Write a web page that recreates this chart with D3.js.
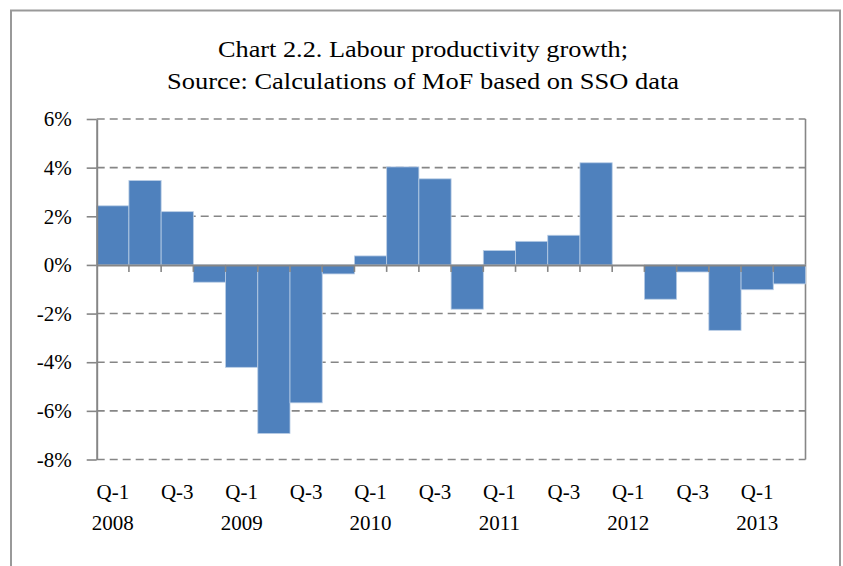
<!DOCTYPE html>
<html><head><meta charset="utf-8">
<script src="https://cdn.jsdelivr.net/npm/d3@7"></script>
<style>body{margin:0;background:#fff}svg{display:block}text{font-family:"Liberation Serif",serif;fill:#000}</style>
</head><body><svg id="c" width="843" height="566"></svg>
<script>
const quarters = ["2008Q1","2008Q2","2008Q3","2008Q4","2009Q1","2009Q2","2009Q3","2009Q4","2010Q1","2010Q2","2010Q3","2010Q4","2011Q1","2011Q2","2011Q3","2011Q4","2012Q1","2012Q2","2012Q3","2012Q4","2013Q1","2013Q2"];
const growth = [2.43,3.47,2.19,-0.71,-4.21,-6.93,-5.67,-0.37,0.37,4.03,3.54,-1.82,0.59,0.97,1.22,4.2,0,-1.41,-0.29,-2.69,-1.02,-0.78];
const quarterLabels = ["Q-1","","Q-3","","Q-1","","Q-3","","Q-1","","Q-3","","Q-1","","Q-3","","Q-1","","Q-3","","Q-1",""];
const yearLabels = ["2008","","","","2009","","","","2010","","","","2011","","","","2012","","","","2013",""];
const yTicks = [6,4,2,0,-2,-4,-6,-8];
const titleLines = ["Chart 2.2. Labour productivity growth;","Source: Calculations of MoF based on SSO data"];

const svg = d3.select("#c");
const L = 96.7, R = 805.5, T = 119, B = 459.5;
const x = d3.scaleBand().domain(quarters).range([L, R]).padding(0);
const y = d3.scaleLinear().domain([-8, 6]).range([B, T]);
const grey = "#868686";
const FONT = "Liberation Serif, serif";

// outer frame
svg.append("path").attr("d", `M11,566 V10.5 H840 V566`).attr("fill","none").attr("stroke","#999").attr("stroke-width",2);

// title
const tw = [410, 512];
svg.append("g").selectAll("text").data(titleLines).join("text")
  .attr("x", 423).attr("y", (d,i)=>57 + i*32).attr("text-anchor","middle")
  .attr("font-size", 24).attr("textLength",(d,i)=>tw[i]).attr("lengthAdjust","spacingAndGlyphs").text(d=>d);

// gridlines
svg.append("g").selectAll("line").data(yTicks.filter(v=>v!==0)).join("line")
  .attr("x1", L).attr("x2", R).attr("y1", d=>y(d)).attr("y2", d=>y(d))
  .attr("stroke", grey).attr("stroke-width", 1.6).attr("stroke-dasharray","8,5");

// plot border right
svg.append("line").attr("x1",R).attr("x2",R).attr("y1",T).attr("y2",B).attr("stroke",grey).attr("stroke-width",1.6);

// bars
svg.append("g").selectAll("rect").data(growth).join("rect")
  .attr("x", (d,i)=>x(quarters[i]))
  .attr("width", x.bandwidth())
  .attr("y", d=>y(Math.max(0,d)))
  .attr("height", d=>Math.abs(y(d)-y(0)))
  .attr("fill", "#4F81BD").attr("stroke","#b9cde5").attr("stroke-width",0.8);

// y axis
const yAxis = d3.axisLeft(y).tickValues(yTicks).tickFormat(d=>d+"%").tickSizeInner(10).tickSizeOuter(0).tickPadding(15);
const gy = svg.append("g").attr("transform",`translate(${L},0)`).call(yAxis);
gy.select(".domain").attr("stroke",grey).attr("stroke-width",2);
gy.selectAll(".tick line").attr("stroke",grey).attr("stroke-width",1.6);
gy.selectAll(".tick text").attr("font-size",21).attr("font-family",FONT).attr("fill","#000");

// zero line with category ticks
const xAxis = d3.axisBottom(x).tickValues([]).tickSizeOuter(0);
const gx = svg.append("g").attr("transform",`translate(0,${y(0)})`).call(xAxis);
gx.select(".domain").attr("stroke",grey).attr("stroke-width",2);
gx.append("g").selectAll("line").data(quarters.slice(1)).join("line")
  .attr("x1", d=>x(d)).attr("x2", d=>x(d)).attr("y1",0).attr("y2",7)
  .attr("stroke",grey).attr("stroke-width",1.6);

// category labels
const lab = svg.append("g");
lab.selectAll("text.q").data(quarterLabels).join("text").attr("class","q")
  .attr("x",(d,i)=>x(quarters[i])+x.bandwidth()/2).attr("y",499)
  .attr("text-anchor","middle").attr("font-size",21).text(d=>d);
lab.selectAll("text.yr").data(yearLabels).join("text").attr("class","yr")
  .attr("x",(d,i)=>x(quarters[i])+x.bandwidth()/2).attr("y",530)
  .attr("text-anchor","middle").attr("font-size",21).text(d=>d);
</script></body></html>
